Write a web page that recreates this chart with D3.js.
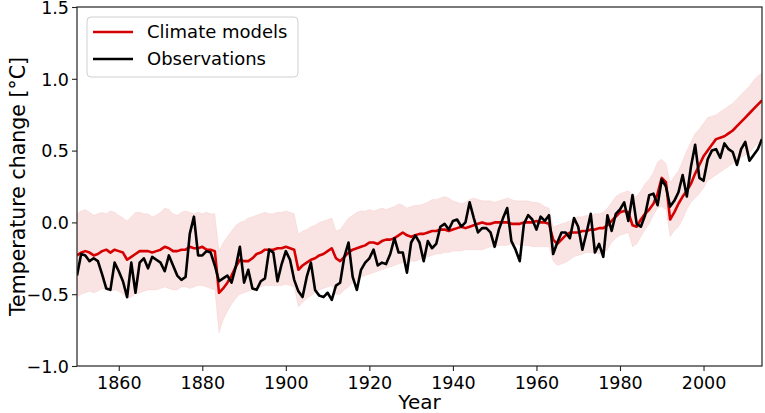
<!DOCTYPE html>
<html lang="en">
<head>
<meta charset="UTF-8">
<title>Temperature change</title>
<style>
  html, body { margin: 0; padding: 0; background: #fff; }
  svg { display: block; font-family: "DejaVu Sans", sans-serif; }
</style>
</head>
<body>
<svg id="chart" width="765" height="413"></svg>
<script src="https://d3js.org/d3.v7.min.js"></script>
<script>
// years 1850..2014
const firstYear = 1850;
const lastYear = 2014;

// Observations (black line)
const observations = [
  -0.37, -0.22, -0.23, -0.27, -0.25, -0.27, -0.36, -0.46, -0.47, -0.28,
  -0.34, -0.41, -0.52, -0.28, -0.49, -0.28, -0.25, -0.32, -0.24, -0.26,
  -0.28, -0.34, -0.23, -0.30, -0.37, -0.40, -0.38, -0.08, 0.04, -0.23,
  -0.23, -0.20, -0.21, -0.30, -0.41, -0.39, -0.37, -0.42, -0.31, -0.17,
  -0.42, -0.33, -0.46, -0.47, -0.41, -0.39, -0.19, -0.21, -0.41, -0.29,
  -0.20, -0.26, -0.40, -0.48, -0.52, -0.38, -0.28, -0.47, -0.51, -0.52,
  -0.49, -0.54, -0.44, -0.42, -0.24, -0.14, -0.38, -0.47, -0.33, -0.28,
  -0.25, -0.19, -0.30, -0.28, -0.29, -0.22, -0.11, -0.21, -0.21, -0.35,
  -0.14, -0.09, -0.14, -0.27, -0.13, -0.18, -0.15, -0.03, -0.01, -0.05,
  0.01, 0.02, -0.03, 0.00, 0.14, 0.03, -0.07, -0.04, -0.04, -0.07,
  -0.17, -0.05, 0.03, 0.10, -0.13, -0.19, -0.27, -0.01, 0.05, 0.02,
  -0.05, 0.04, 0.01, 0.05, -0.22, -0.14, -0.07, -0.07, -0.11, 0.03,
  -0.03, -0.19, -0.07, 0.06, -0.21, -0.15, -0.24, 0.05, -0.06, 0.06,
  0.09, 0.14, 0.01, 0.19, -0.01, -0.03, 0.05, 0.19, 0.20, 0.12,
  0.30, 0.25, 0.11, 0.15, 0.21, 0.33, 0.18, 0.39, 0.54, 0.31,
  0.29, 0.44, 0.50, 0.51, 0.45, 0.55, 0.51, 0.49, 0.40, 0.51,
  0.56, 0.43, 0.47, 0.51, 0.58
];

// Climate models, mean (red line)
const modelMean = [
  -0.23, -0.21, -0.20, -0.21, -0.23, -0.22, -0.20, -0.19, -0.21, -0.19,
  -0.20, -0.21, -0.26, -0.24, -0.22, -0.20, -0.20, -0.20, -0.21, -0.20,
  -0.19, -0.17, -0.18, -0.20, -0.20, -0.19, -0.19, -0.17, -0.18, -0.18,
  -0.17, -0.19, -0.19, -0.20, -0.49, -0.46, -0.42, -0.37, -0.31, -0.26,
  -0.27, -0.27, -0.25, -0.22, -0.21, -0.19, -0.19, -0.19, -0.18, -0.18,
  -0.17, -0.18, -0.19, -0.33, -0.30, -0.28, -0.26, -0.25, -0.23, -0.22,
  -0.20, -0.18, -0.25, -0.27, -0.24, -0.21, -0.19, -0.18, -0.17, -0.16,
  -0.14, -0.14, -0.15, -0.13, -0.12, -0.12, -0.11, -0.09, -0.07, -0.09,
  -0.10, -0.09, -0.08, -0.08, -0.07, -0.06, -0.06, -0.05, -0.05, -0.06,
  -0.05, -0.04, -0.03, -0.04, -0.03, -0.02, -0.01, 0.00, -0.01, -0.01,
  0.00, 0.00, 0.00, 0.00, -0.01, -0.01, -0.01, 0.00, 0.00, 0.00,
  0.01, 0.00, 0.00, -0.01, -0.12, -0.15, -0.12, -0.09, -0.07, -0.07,
  -0.07, -0.06, -0.06, -0.05, -0.05, -0.04, -0.04, -0.02, 0.01, 0.04,
  0.07, 0.08, 0.07, -0.02, -0.03, 0.02, 0.06, 0.09, 0.13, 0.20,
  0.31, 0.28, 0.02, 0.07, 0.13, 0.18, 0.22, 0.27, 0.34, 0.40,
  0.46, 0.50, 0.54, 0.58, 0.59, 0.60, 0.62, 0.64, 0.67, 0.70,
  0.73, 0.76, 0.79, 0.82, 0.85
];

// Climate models, spread (pink band)
const modelHigh = [
  0.06, 0.08, 0.09, 0.07, 0.05, 0.06, 0.07, 0.06, 0.08, 0.07,
  0.05, 0.03, 0.01, 0.04, 0.07, 0.07, 0.06, 0.06, 0.04, 0.05,
  0.07, 0.10, 0.09, 0.06, 0.05, 0.07, 0.08, 0.07, 0.06, 0.07,
  0.06, 0.07, 0.06, 0.06, -0.20, -0.14, -0.10, -0.06, -0.02, 0.00,
  0.01, 0.03, 0.04, 0.05, 0.06, 0.07, 0.06, 0.06, 0.07, 0.07,
  0.08, 0.07, 0.06, -0.08, -0.06, -0.05, -0.03, -0.02, 0.00, 0.01,
  0.02, 0.03, -0.06, -0.05, -0.01, 0.03, 0.05, 0.07, 0.08, 0.08,
  0.09, 0.08, 0.09, 0.10, 0.09, 0.10, 0.11, 0.13, 0.12, 0.10,
  0.11, 0.12, 0.12, 0.13, 0.14, 0.16, 0.16, 0.17, 0.18, 0.17,
  0.15, 0.14, 0.13, 0.14, 0.16, 0.17, 0.16, 0.15, 0.15, 0.15,
  0.14, 0.15, 0.16, 0.17, 0.16, 0.15, 0.15, 0.15, 0.15, 0.14,
  0.14, 0.13, 0.11, 0.10, -0.03, -0.02, -0.01, 0.00, 0.01, 0.03,
  0.04, 0.04, 0.05, 0.05, 0.06, 0.06, 0.07, 0.10, 0.14, 0.18,
  0.20, 0.21, 0.22, 0.19, 0.18, 0.22, 0.27, 0.30, 0.35, 0.42,
  0.44, 0.41, 0.28, 0.32, 0.36, 0.43, 0.50, 0.56, 0.62, 0.65,
  0.69, 0.73, 0.74, 0.75, 0.77, 0.79, 0.81, 0.83, 0.86, 0.89,
  0.92, 0.95, 0.99, 1.02, 1.04
];

const modelLow = [
  -0.52, -0.50, -0.49, -0.48, -0.49, -0.48, -0.46, -0.47, -0.48, -0.47,
  -0.48, -0.50, -0.53, -0.52, -0.50, -0.49, -0.48, -0.47, -0.47, -0.47,
  -0.46, -0.45, -0.46, -0.47, -0.47, -0.45, -0.45, -0.46, -0.45, -0.44,
  -0.44, -0.45, -0.46, -0.47, -0.77, -0.68, -0.62, -0.57, -0.53, -0.50,
  -0.49, -0.48, -0.47, -0.46, -0.45, -0.44, -0.44, -0.44, -0.44, -0.44,
  -0.43, -0.44, -0.45, -0.59, -0.56, -0.53, -0.51, -0.49, -0.47, -0.46,
  -0.45, -0.44, -0.50, -0.50, -0.47, -0.45, -0.42, -0.40, -0.38, -0.37,
  -0.36, -0.35, -0.34, -0.33, -0.32, -0.31, -0.30, -0.29, -0.28, -0.28,
  -0.27, -0.27, -0.26, -0.25, -0.24, -0.23, -0.22, -0.22, -0.21, -0.21,
  -0.20, -0.20, -0.20, -0.19, -0.19, -0.19, -0.19, -0.19, -0.18, -0.17,
  -0.17, -0.16, -0.16, -0.16, -0.15, -0.15, -0.16, -0.16, -0.16, -0.17,
  -0.17, -0.17, -0.17, -0.17, -0.27, -0.30, -0.29, -0.28, -0.26, -0.24,
  -0.23, -0.22, -0.21, -0.21, -0.21, -0.22, -0.21, -0.19, -0.14, -0.11,
  -0.09, -0.08, -0.07, -0.17, -0.15, -0.10, -0.05, -0.01, 0.05, 0.10,
  0.11, 0.09, -0.10, -0.06, -0.03, 0.02, 0.09, 0.14, 0.17, 0.20,
  0.24, 0.29, 0.31, 0.33, 0.35, 0.37, 0.39, 0.41, 0.43, 0.45,
  0.47, 0.48, 0.52, 0.55, 0.59
];

const xTicks = [1860, 1880, 1900, 1920, 1940, 1960, 1980, 2000];
const yTicks = [-1.0, -0.5, 0.0, 0.5, 1.0, 1.5];
const legendLabels = ["Climate models", "Observations"];

const years = d3.range(firstYear, lastYear + 1);
const rows = years.map((yr, i) => ({
  year: yr, obs: observations[i], mean: modelMean[i], lo: modelLow[i], hi: modelHigh[i]
}));

const svg = d3.select("#chart");
const plot = {left: 77, right: 762, top: 7, bottom: 366};
const red = "#d60000";

const x = d3.scaleLinear().domain([firstYear, lastYear]).range([plot.left, plot.right]);
const y = d3.scaleLinear().domain([-1.0, 1.5]).range([plot.bottom, plot.top]);

svg.append("clipPath").attr("id", "clip")
  .append("rect")
  .attr("x", plot.left).attr("y", plot.top)
  .attr("width", plot.right - plot.left).attr("height", plot.bottom - plot.top);

const g = svg.append("g").attr("clip-path", "url(#clip)");

// model spread
g.append("path")
  .datum(rows)
  .attr("d", d3.area().x(d => x(d.year)).y0(d => y(d.lo)).y1(d => y(d.hi)))
  .attr("fill", red)
  .attr("fill-opacity", 0.11)
  .attr("stroke", red)
  .attr("stroke-opacity", 0.06)
  .attr("stroke-width", 1);

// model mean
g.append("path")
  .datum(rows)
  .attr("d", d3.line().x(d => x(d.year)).y(d => y(d.mean)))
  .attr("fill", "none")
  .attr("stroke", red)
  .attr("stroke-width", 2.6)
  .attr("stroke-linejoin", "round");

// observations
g.append("path")
  .datum(rows)
  .attr("d", d3.line().x(d => x(d.year)).y(d => y(d.obs)))
  .attr("fill", "none")
  .attr("stroke", "#000")
  .attr("stroke-width", 2.6)
  .attr("stroke-linejoin", "round");

// axes
const fmt = d => d.toFixed(1).replace("-", "\u2212");

const xAxis = svg.append("g")
  .attr("transform", `translate(0,${plot.bottom})`)
  .call(d3.axisBottom(x).tickValues(xTicks).tickFormat(d3.format("d")).tickSize(5).tickPadding(6));

const yAxis = svg.append("g")
  .attr("transform", `translate(${plot.left},0)`)
  .call(d3.axisLeft(y).tickValues(yTicks).tickFormat(fmt).tickSize(5).tickPadding(3));

[xAxis, yAxis].forEach(ax => {
  ax.select(".domain").remove();
  ax.selectAll("line").attr("stroke", "#222").attr("stroke-width", 1.1);
  ax.selectAll("text").attr("fill", "#000").style("font-size", "17.5px")
    .style("font-family", "'DejaVu Sans', sans-serif");
});
yAxis.selectAll("text").attr("dy", "0.36em");

// frame
svg.append("rect")
  .attr("x", plot.left).attr("y", plot.top)
  .attr("width", plot.right - plot.left).attr("height", plot.bottom - plot.top)
  .attr("fill", "none").attr("stroke", "#222").attr("stroke-width", 1.2);

// axis labels
svg.append("text")
  .attr("x", (plot.left + plot.right) / 2).attr("y", 409)
  .attr("text-anchor", "middle")
  .style("font-size", "20px")
  .text("Year");

svg.append("text")
  .attr("transform", `translate(25,${(plot.top + plot.bottom) / 2}) rotate(-90)`)
  .attr("text-anchor", "middle")
  .style("font-size", "20.5px")
  .text("Temperature change [°C]");

// legend
const leg = svg.append("g");
leg.append("rect")
  .attr("x", 87).attr("y", 17).attr("width", 211).attr("height", 60).attr("rx", 4)
  .attr("fill", "#fff").attr("fill-opacity", 0.8)
  .attr("stroke", "#d0d0d0").attr("stroke-width", 1);

const legendColors = [red, "#000"];
legendLabels.forEach((lab, i) => {
  const ly = 32 + i * 27;
  leg.append("line")
    .attr("x1", 93).attr("x2", 133).attr("y1", ly).attr("y2", ly)
    .attr("stroke", legendColors[i]).attr("stroke-width", 2.6);
  leg.append("text")
    .attr("x", 147).attr("y", ly).attr("dy", "0.35em")
    .style("font-size", "18px")
    .text(lab);
});
</script>
</body>
</html>
